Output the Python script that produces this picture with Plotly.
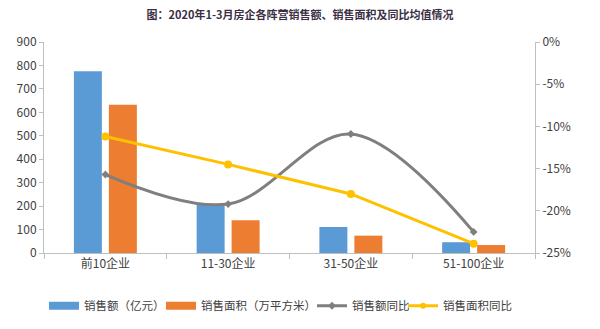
import plotly.graph_objects as go

categories = ["前10企业", "11-30企业", "31-50企业", "51-100企业"]
sales_amount = [775, 209, 111, 46]          # 销售额（亿元）
sales_area = [632, 140, 74, 34]             # 销售面积（万平方米）
amount_yoy = [-15.7, -19.2, -10.9, -22.5]   # 销售额同比 (%)
area_yoy = [-11.2, -14.5, -18.0, -23.9]     # 销售面积同比 (%)

left_ticks = [0, 100, 200, 300, 400, 500, 600, 700, 800, 900]
right_ticks = [0, -5, -10, -15, -20, -25]
right_labels = ["0%", "-5%", "-10%", "-15%", "-20%", "-25%"]

font_family = "Noto Sans CJK SC, Noto Sans, sans-serif"
blue, orange, gray, yellow = "#5b9bd5", "#ed7d31", "#7f7f7f", "#ffc000"

fig = go.Figure()
fig.add_trace(go.Bar(x=categories, y=sales_amount, name="销售额（亿元）", showlegend=False,
                     marker=dict(color=blue, line=dict(width=0))))
fig.add_trace(go.Bar(x=categories, y=sales_area, name="销售面积（万平方米）", showlegend=False,
                     marker=dict(color=orange, line=dict(width=0))))
fig.add_trace(go.Scatter(x=categories, y=amount_yoy, name="销售额同比", yaxis="y2",
                         mode="lines+markers", showlegend=False,
                         line=dict(color=gray, width=3, shape="spline", smoothing=1.0),
                         marker=dict(symbol="diamond", size=6, color=gray)))
fig.add_trace(go.Scatter(x=categories, y=area_yoy, name="销售面积同比", yaxis="y2",
                         mode="lines+markers", showlegend=False,
                         line=dict(color=yellow, width=3),
                         marker=dict(symbol="circle", size=8, color=yellow)))

# legend entries (wide rectangle symbols for the bars, like the original)
fig.add_trace(go.Scatter(x=[None], y=[None], mode="lines", name="销售额（亿元）",
                         legendwidth=72, line=dict(color=blue, width=8)))
fig.add_trace(go.Scatter(x=[None], y=[None], mode="lines", name="销售面积（万平方米）",
                         legendwidth=106, line=dict(color=orange, width=8)))
fig.add_trace(go.Scatter(x=[None], y=[None], mode="lines+markers", name="销售额同比",
                         legendwidth=46, line=dict(color=gray, width=3),
                         marker=dict(symbol="diamond", size=6, color=gray)))
fig.add_trace(go.Scatter(x=[None], y=[None], mode="lines+markers", name="销售面积同比",
                         legendwidth=72, line=dict(color=yellow, width=3),
                         marker=dict(symbol="circle", size=6, color=yellow)))

fig.update_layout(
    width=600, height=329,
    margin=dict(l=44, r=65, t=42, b=76, autoexpand=False),
    paper_bgcolor="white", plot_bgcolor="white",
    font=dict(family=font_family, size=12, color="#404040"),
    title=dict(text="<b>图：2020年1-3月房企各阵营销售额、销售面积及同比均值情况</b>",
               x=0.5, xanchor="center", y=0.955, yanchor="middle",
               font=dict(size=11, color="#3b2f45", family=font_family)),
    barmode="group", bargap=0.43, bargroupgap=0.2,
    showlegend=True,
    legend=dict(orientation="h", x=0.0, xanchor="left", y=-0.25, yanchor="middle",
                font=dict(size=11.5, color="#404040"), itemwidth=30,
                tracegroupgap=0, traceorder="normal", borderwidth=0),
    xaxis=dict(type="category", showline=True, linecolor="#bfbfbf", linewidth=1,
               ticks="outside", tickson="boundaries", ticklen=5, tickcolor="#bfbfbf",
               showgrid=False, tickfont=dict(size=12, color="#404040")),
    yaxis=dict(range=[0, 900], tickvals=left_ticks, showline=True, linecolor="#bfbfbf",
               linewidth=1, ticks="outside", ticklen=4, tickcolor="#bfbfbf",
               showgrid=False, zeroline=False, tickfont=dict(size=12, color="#404040")),
    yaxis2=dict(range=[-25, 0], overlaying="y", side="right", tickvals=right_ticks,
                ticktext=right_labels, showline=True, linecolor="#bfbfbf", linewidth=1,
                ticks="outside", ticklen=4, tickcolor="#bfbfbf", showgrid=False,
                zeroline=False, tickfont=dict(size=12, color="#404040")),
)

fig.write_html("out.html")
